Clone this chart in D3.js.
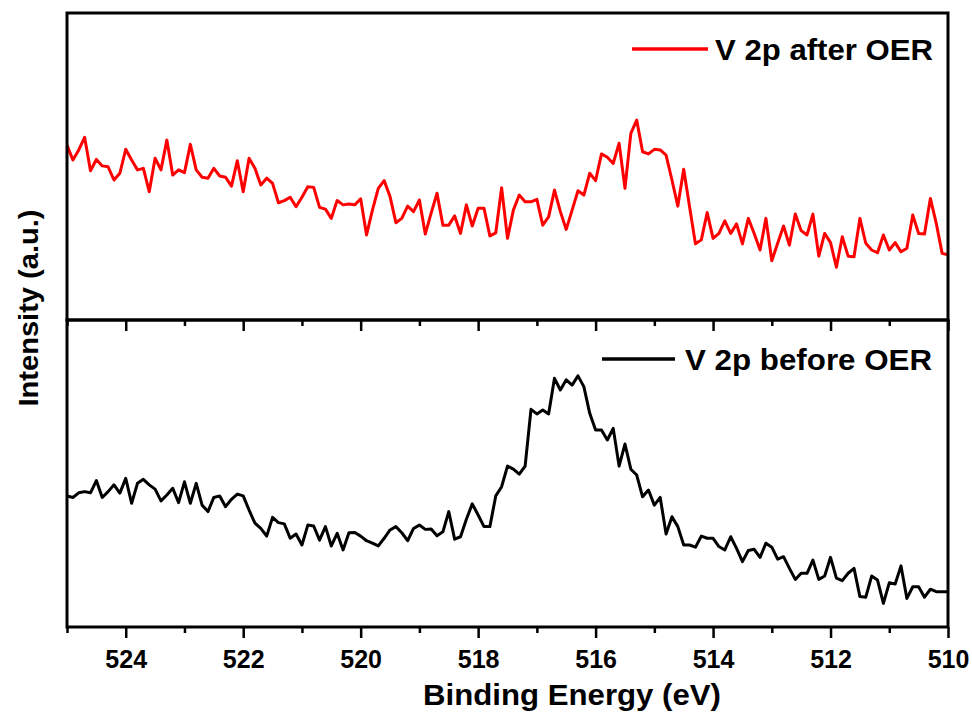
<!DOCTYPE html>
<html>
<head>
<meta charset="utf-8">
<script src="https://cdn.jsdelivr.net/npm/d3@7"></script>
<style>
  html, body { margin: 0; padding: 0; background: #fff; }
  svg { display: block; }
  text { font-family: "Liberation Sans", Arial, sans-serif; font-weight: bold; fill: #000; }
</style>
</head>
<body>
<svg id="chart" width="972" height="724"></svg>
<script>
// XPS V 2p scan: 525.0 -> 510.0 eV, 0.1 eV step
const energyStart = 525.0;
const energyStep = 0.1;

// Intensity (a.u.) after OER, one value per step
const afterOER = [
  57.0, 52.1, 55.4, 59.5, 48.6, 52.3, 50.2, 49.9, 45.6, 47.8,
  55.6, 52.1, 48.9, 49.4, 41.8, 52.7, 48.9, 58.6, 47.2, 48.9,
  48.0, 57.2, 48.9, 46.5, 46.2, 49.4, 46.9, 46.5, 43.6, 51.9,
  41.8, 52.7, 49.4, 44.0, 46.2, 44.5, 38.2, 38.9, 40.0, 36.9,
  40.0, 43.4, 43.2, 36.7, 36.1, 33.1, 38.9, 37.5, 37.8, 37.5,
  39.5, 27.7, 35.8, 42.9, 45.4, 40.2, 31.7, 33.1, 37.1, 35.3,
  39.1, 28.0, 34.8, 41.3, 30.9, 30.9, 33.9, 28.2, 37.5, 30.6,
  36.4, 36.4, 27.4, 28.4, 43.1, 26.6, 35.8, 40.7, 38.5, 38.5,
  39.3, 30.9, 33.6, 42.3, 35.3, 29.5, 35.8, 42.1, 40.7, 47.8,
  45.4, 54.1, 53.0, 51.0, 57.6, 42.9, 60.8, 65.1, 54.8, 54.1,
  55.6, 55.4, 53.7, 45.6, 37.1, 49.1, 36.9, 24.8, 26.1, 35.0,
  26.6, 28.2, 32.3, 28.2, 31.3, 24.8, 33.1, 28.2, 22.8, 33.1,
  19.3, 25.0, 30.6, 24.4, 34.5, 29.1, 27.7, 34.5, 20.8, 28.2,
  25.2, 17.2, 27.1, 20.8, 20.6, 33.1, 25.0, 22.8, 21.9, 27.7,
  22.8, 25.2, 22.2, 23.4, 34.2, 28.2, 28.0, 39.6, 31.5, 21.7,
  21.2
];

// Intensity (a.u.) before OER, one value per step
const beforeOER = [
  42.7, 42.2, 43.7, 44.1, 43.7, 47.7, 42.2, 44.1, 46.3, 43.6,
  48.4, 40.3, 46.8, 48.1, 46.3, 44.9, 41.1, 43.0, 45.2, 40.5,
  47.3, 40.3, 46.8, 39.7, 37.6, 42.2, 42.7, 39.2, 41.6, 43.3,
  42.7, 38.1, 33.8, 32.1, 29.6, 35.7, 34.0, 33.6, 28.9, 30.3,
  26.7, 33.2, 32.9, 28.3, 32.7, 26.4, 30.5, 25.1, 30.7, 30.8,
  29.6, 28.1, 27.3, 26.4, 28.9, 31.6, 32.7, 30.7, 28.1, 32.1,
  33.2, 31.8, 31.9, 29.7, 31.0, 37.6, 28.6, 29.4, 35.1, 40.1,
  36.5, 32.7, 32.7, 42.7, 45.7, 52.4, 51.4, 49.8, 52.4, 70.9,
  69.4, 70.7, 69.4, 81.0, 77.2, 80.5, 78.8, 81.8, 78.3, 69.6,
  64.2, 64.2, 60.9, 64.7, 52.4, 59.6, 51.4, 49.5, 42.4, 44.6,
  39.7, 42.2, 30.3, 35.9, 32.7, 26.7, 26.7, 26.0, 29.6, 28.9,
  28.9, 26.2, 25.1, 29.4, 25.6, 21.3, 24.9, 25.3, 22.7, 27.3,
  26.0, 22.1, 22.9, 19.1, 15.5, 17.5, 17.5, 21.8, 15.5, 16.6,
  22.7, 15.9, 15.1, 17.5, 19.1, 9.9, 9.7, 16.6, 15.3, 7.7,
  14.4, 14.0, 19.9, 9.3, 13.1, 13.1, 9.7, 12.3, 11.5, 11.5,
  11.5
];

const majorTicks = [524, 522, 520, 518, 516, 514, 512, 510];
const minorTicks = [525, 523, 521, 519, 517, 515, 513, 511];
const seriesLabels = ["V 2p after OER", "V 2p before OER"];
const xTitle = "Binding Energy (eV)";
const yTitle = "Intensity (a.u.)";

const energies = afterOER.map((_, i) => +(energyStart - i * energyStep).toFixed(1));

const svg = d3.select("#chart");
const plotLeft = 67, plotRight = 948, plotTop = 13, plotMid = 320, plotBottom = 627;

const x = d3.scaleLinear().domain([525, 510]).range([plotLeft, plotRight]);
const yTop = d3.scaleLinear().domain([0, 100]).range([plotMid, plotTop]);
const yBot = d3.scaleLinear().domain([0, 100]).range([plotBottom, plotMid]);

// clip paths for each panel
const defs = svg.append("defs");
defs.append("clipPath").attr("id", "clipTop").append("rect")
  .attr("x", plotLeft).attr("y", plotTop).attr("width", plotRight - plotLeft).attr("height", plotMid - plotTop);
defs.append("clipPath").attr("id", "clipBot").append("rect")
  .attr("x", plotLeft).attr("y", plotMid).attr("width", plotRight - plotLeft).attr("height", plotBottom - plotMid);

const lineTop = d3.line().x((d, i) => x(energies[i])).y(d => yTop(d));
const lineBot = d3.line().x((d, i) => x(energies[i])).y(d => yBot(d));

svg.append("path").datum(afterOER)
  .attr("clip-path", "url(#clipTop)")
  .attr("d", lineTop).attr("fill", "none")
  .attr("stroke", "#ff0000").attr("stroke-width", 3).attr("stroke-linejoin", "round");

svg.append("path").datum(beforeOER)
  .attr("clip-path", "url(#clipBot)")
  .attr("d", lineBot).attr("fill", "none")
  .attr("stroke", "#000").attr("stroke-width", 3).attr("stroke-linejoin", "round");

// panel frames
[[plotTop, plotMid], [plotMid, plotBottom]].forEach(([y0, y1]) => {
  svg.append("rect")
    .attr("x", plotLeft).attr("y", y0).attr("width", plotRight - plotLeft).attr("height", y1 - y0)
    .attr("fill", "none").attr("stroke", "#000").attr("stroke-width", 3);
});

// ticks under the divider (upper panel's x axis, labels hidden)
const midAxis = svg.append("g").attr("transform", `translate(0,${plotMid})`)
  .call(d3.axisBottom(x).tickValues(majorTicks).tickSize(11).tickFormat(""));
const midMinor = svg.append("g").attr("transform", `translate(0,${plotMid})`)
  .call(d3.axisBottom(x).tickValues(minorTicks).tickSize(6).tickFormat(""));

// bottom x axis
const botAxis = svg.append("g").attr("transform", `translate(0,${plotBottom})`)
  .call(d3.axisBottom(x).tickValues(majorTicks).tickSize(11).tickFormat(d3.format("d")));
const botMinor = svg.append("g").attr("transform", `translate(0,${plotBottom})`)
  .call(d3.axisBottom(x).tickValues(minorTicks).tickSize(6).tickFormat(""));

[midAxis, midMinor, botAxis, botMinor].forEach(g => {
  g.select(".domain").remove();
  g.selectAll(".tick line").attr("stroke", "#000").attr("stroke-width", 2.5);
});
botAxis.selectAll(".tick text")
  .attr("y", 41).attr("dy", 0)
  .attr("font-family", "Liberation Sans, Arial, sans-serif")
  .attr("font-weight", "bold").attr("font-size", 25).attr("fill", "#000");

// axis titles
svg.append("text")
  .attr("x", 572).attr("y", 705).attr("text-anchor", "middle")
  .attr("font-size", 29).attr("textLength", 298).attr("lengthAdjust", "spacingAndGlyphs")
  .text(xTitle);

svg.append("text")
  .attr("transform", "translate(38,308) rotate(-90)").attr("text-anchor", "middle")
  .attr("font-size", 28).attr("textLength", 197).attr("lengthAdjust", "spacingAndGlyphs")
  .text(yTitle);

// legends
const legends = [
  { label: seriesLabels[0], color: "#ff0000", x0: 632, x1: 708, ly: 49, tx: 715, ty: 60, len: 218 },
  { label: seriesLabels[1], color: "#000", x0: 602, x1: 675, ly: 359, tx: 685, ty: 370, len: 247 }
];
legends.forEach(l => {
  svg.append("line").attr("x1", l.x0).attr("x2", l.x1).attr("y1", l.ly).attr("y2", l.ly)
    .attr("stroke", l.color).attr("stroke-width", 3.5);
  svg.append("text").attr("x", l.tx).attr("y", l.ty)
    .attr("font-size", 29).attr("textLength", l.len).attr("lengthAdjust", "spacingAndGlyphs")
    .text(l.label);
});
</script>
</body>
</html>
